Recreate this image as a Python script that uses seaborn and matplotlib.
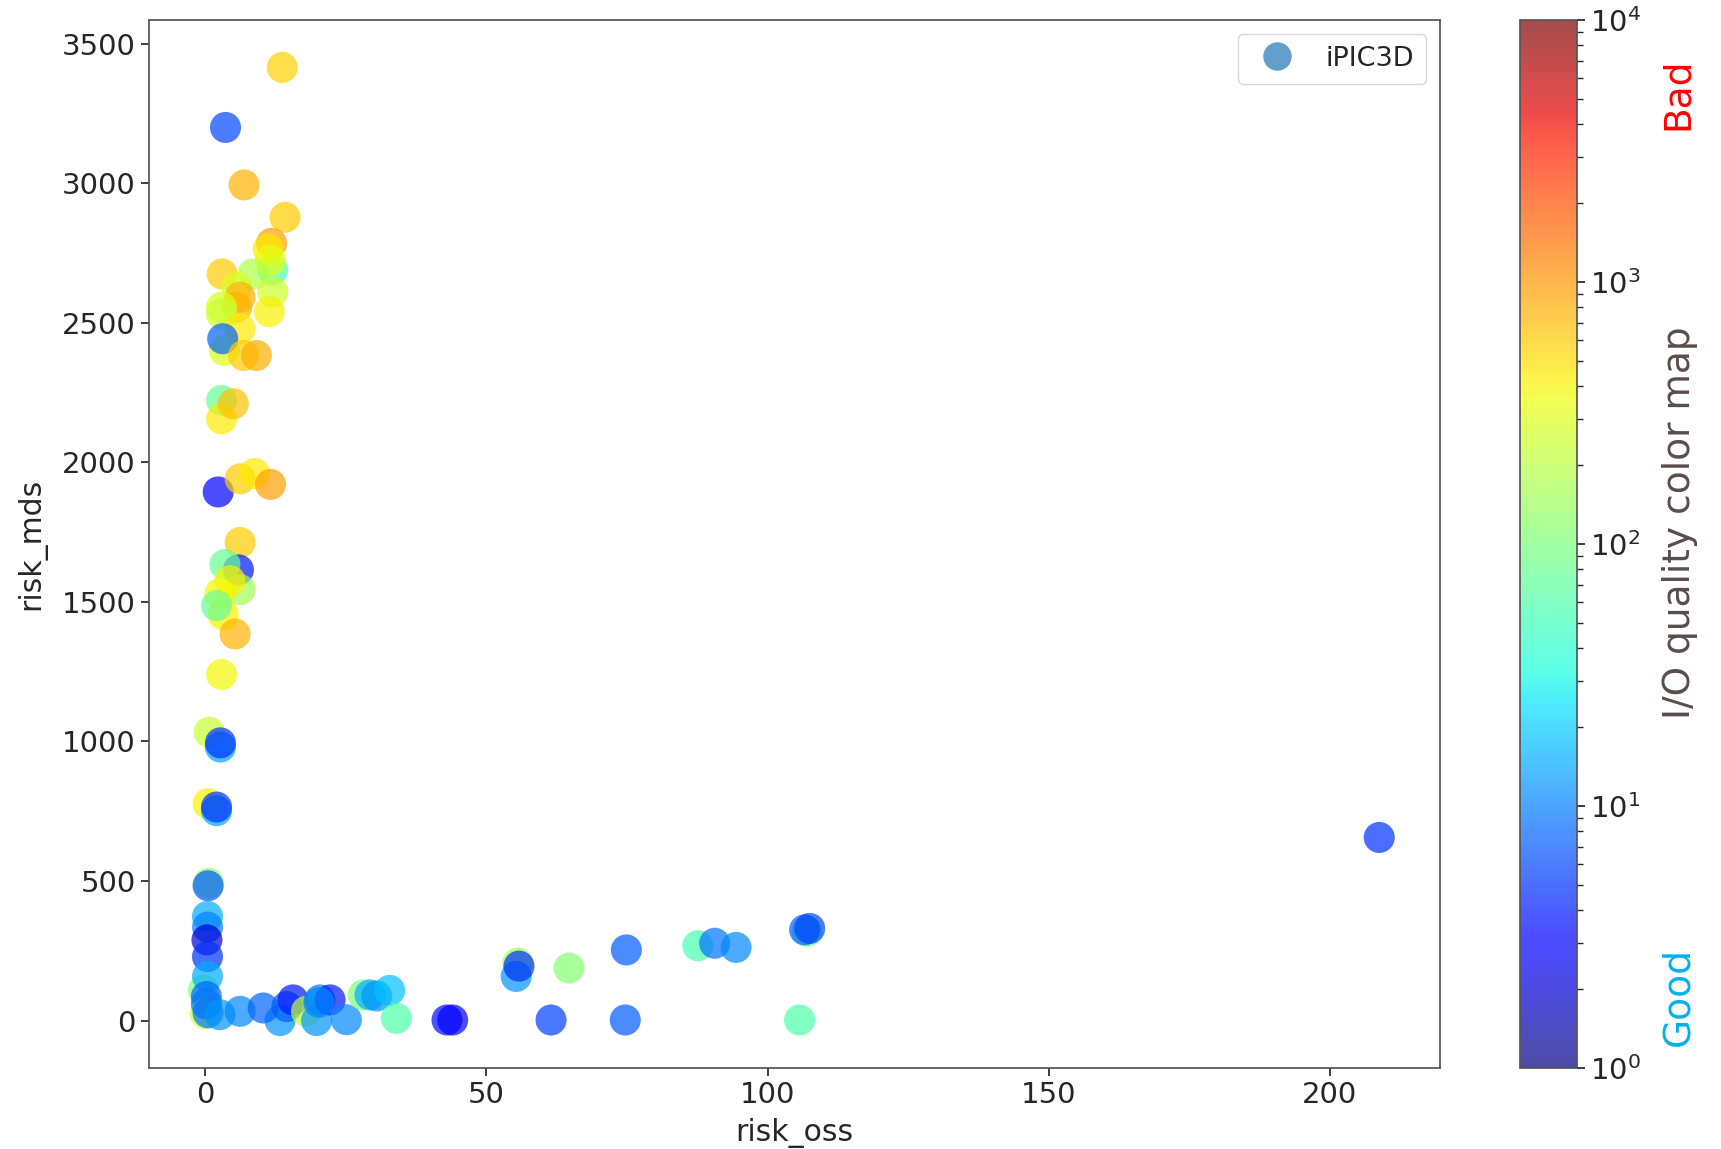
import numpy as np
import pandas as pd
import matplotlib
matplotlib.use("Agg")
import matplotlib.pyplot as plt
import seaborn as sns
from matplotlib.colors import LogNorm
from matplotlib.cm import ScalarMappable
from matplotlib.lines import Line2D

# ---- data ----
risk_oss = [13.7, 3.6, 6.9, 14.2, 11.8, 12.0, 11.2, 11.6, 8.5, 3.0,
            12.0, 5.6, 6.2, 5.6, 2.9, 2.9, 11.4, 6.2, 3.4, 3.1,
            6.8, 9.1, 2.9, 2.9, 5.0, 2.3, 6.2, 8.8, 11.6,
            6.2, 5.9, 3.5, 6.2, 4.4, 2.6, 3.2, 2.0, 5.3, 2.9,
            0.7, 2.7, 2.7, 0.5, 2.0, 2.0,
            0.6, 0.5, 0.4, 0.4, 0.3, 0.4, -0.3, 0.4, 0.2, 0.0, 0.5, 0.2,
            2.6, 6.2, 13.3, 10.3, 14.5, 15.6, 18.0, 19.8, 20.4, 22.2,
            20.2, 25.1, 28.1, 29.3, 30.5, 32.8, 34.0, 43.0, 44.0,
            55.6, 55.3, 55.8, 64.7, 61.5, 74.7, 74.9, 87.6, 90.6, 94.4,
            107.0, 106.6, 107.5, 105.7, 208.8]
risk_mds = [3415, 3200, 2994, 2878, 2785, 2690, 2765, 2725, 2675, 2675,
            2610, 2627, 2592, 2556, 2556, 2532, 2540, 2478, 2401, 2443,
            2383, 2383, 2222, 2156, 2210, 1894, 1941, 1960, 1921,
            1713, 1615, 1634, 1544, 1576, 1530, 1455, 1487, 1385, 1240,
            1033, 980, 995, 777, 752, 765,
            492, 483, 373, 335, 289, 229, 110, 158, 86, 25, 28, 60,
            21, 33, 0, 45, 50, 74, 33, 0, 74, 74,
            65, 3, 92, 92, 88, 108, 8, 2, 2,
            206, 158, 195, 188, 2, 2, 253, 268, 277, 262,
            320, 325, 330, 2, 656]
io_quality = [550, 6, 750, 600, 900, 60, 450, 330, 180, 600,
              250, 280, 800, 750, 280, 230, 420, 450, 300, 8,
              600, 800, 80, 450, 650, 3, 600, 450, 900,
              600, 4, 80, 150, 420, 380, 420, 75, 750, 380,
              230, 14, 5, 400, 14, 5,
              120, 7, 15, 10, 2, 5, 100, 15, 8, 250, 9, 9,
              12, 11, 12, 8, 7, 4, 220, 12, 10, 4,
              11, 11, 100, 15, 12, 18, 60, 3.5, 3,
              150, 12, 5, 110, 5.5, 7, 7, 55, 9, 11,
              90, 8, 6, 60, 5]

legend_label = "iPIC3D"
cbar_label = "I/O quality color map"
bad_label = "Bad"
good_label = "Good"

df = pd.DataFrame({"risk_oss": risk_oss, "risk_mds": risk_mds,
                   "io_quality": io_quality})

sns.set_theme(style="ticks")
plt.rcParams["font.family"] = ["DejaVu Sans"]

fig = plt.figure(figsize=(17.21, 11.49), dpi=100)
ax = fig.add_axes([0.0866, 0.0705, 0.7501, 0.9121])
cax = fig.add_axes([0.8832, 0.0705, 0.0331, 0.9121])

jet = matplotlib.colormaps["jet"]
norm = LogNorm(vmin=1, vmax=1e4)
sns.scatterplot(data=df, x="risk_oss", y="risk_mds", hue="io_quality",
                palette=jet, hue_norm=norm, s=500, alpha=0.7,
                linewidth=0, legend=False, ax=ax)

ax.set_xlim(-10, 219.6)
ax.set_ylim(-170, 3585)
ax.set_xticks([0, 50, 100, 150, 200])
ax.set_yticks([0, 500, 1000, 1500, 2000, 2500, 3000, 3500])
ax.tick_params(labelsize=21, length=6)
ax.set_xlabel("risk_oss", fontsize=21.5, labelpad=6)
ax.set_ylabel("risk_mds", fontsize=21.5, labelpad=11)
for sp in ax.spines.values():
    sp.set_color("#555555")

handle = Line2D([], [], marker="o", linestyle="none", color="#1f77b4",
                alpha=0.7, markersize=20.5, markeredgewidth=0)
ax.legend([handle], [legend_label], loc="upper right", fontsize=19.5,
          handletextpad=0.8, borderpad=0.45, frameon=True)

sm = ScalarMappable(norm=norm, cmap=jet)
cb = fig.colorbar(sm, cax=cax, alpha=0.7)
cb.ax.tick_params(labelsize=21, length=6)
cb.ax.tick_params(which="minor", length=4)
cb.outline.set_edgecolor("#555555")

fig.text(1680 / 1721, 1 - 523 / 1149, cbar_label, rotation=90,
         ha="center", va="center", fontsize=27, color="#5a4c4a")
fig.text(1678 / 1721, 1 - 94 / 1149, bad_label, rotation=90,
         ha="center", va="center", fontsize=27, color="#ff0000")
fig.text(1678 / 1721, 1 - 996 / 1149, good_label, rotation=90,
         ha="center", va="center", fontsize=27, color="#00b0f0")

fig.savefig("out.png", dpi=100)
